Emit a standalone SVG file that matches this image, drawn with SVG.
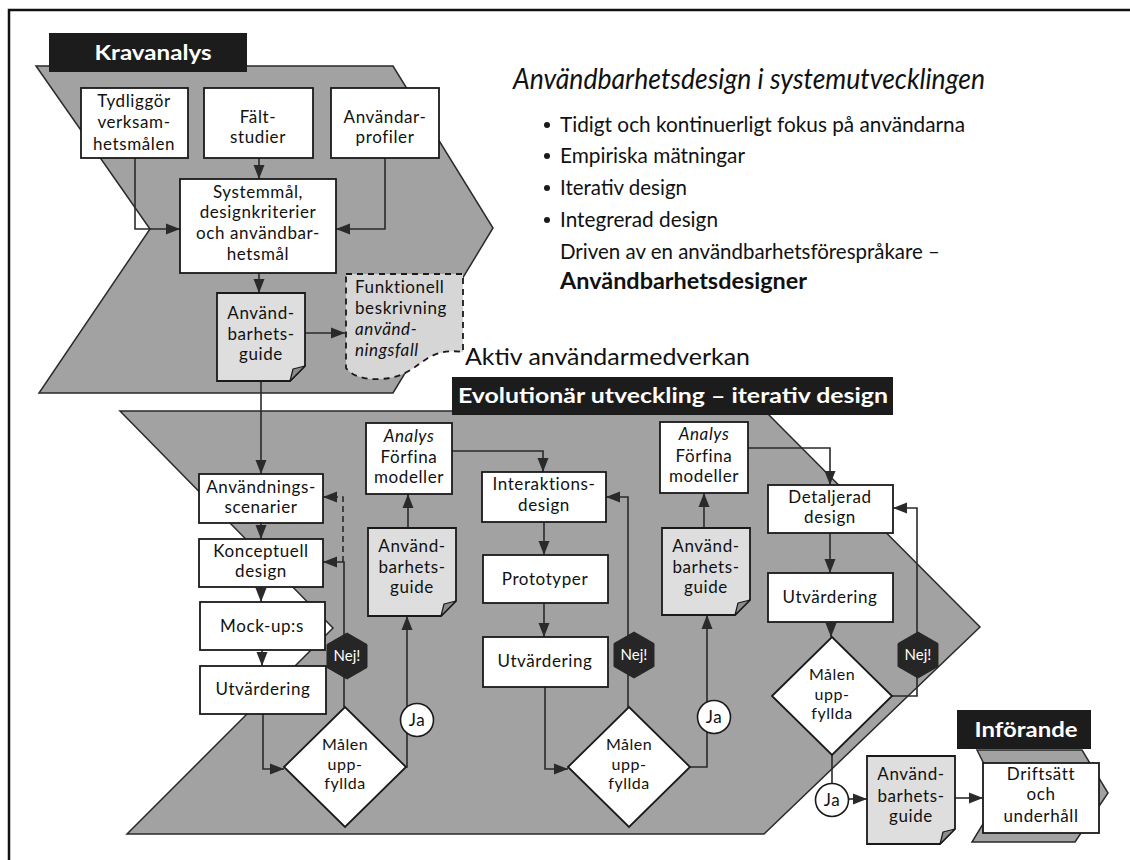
<svg xmlns="http://www.w3.org/2000/svg" width="1130" height="860" viewBox="0 0 1130 860">
  <defs>
    <style>
      .frame { fill: none; stroke: #111; stroke-width: 2.5; }
      .band { fill: #a2a2a2; stroke: #2a2a2a; stroke-width: 1.5; }
      .tag { fill: #1c1c1c; }
      .box { fill: #fff; stroke: #1a1a1a; stroke-width: 1.8; }
      .note { fill: #dedede; stroke: #1a1a1a; stroke-width: 1.8; }
      .fold { fill: #8c8c8c; stroke: #1a1a1a; stroke-width: 1.2; stroke-linejoin: round; }
      .torn { fill: #d6d6d6; stroke: #1a1a1a; stroke-width: 1.8; stroke-dasharray: 6 5; }
      .dia { fill: #fff; stroke: #1a1a1a; stroke-width: 1.8; }
      .hex { fill: #262626; stroke: #262626; stroke-width: 1; }
      .ja { fill: #fff; stroke: #1a1a1a; stroke-width: 1.6; }
      .t { font-family: Lato, "Open Sans", sans-serif; font-size: 17px; letter-spacing: 0.6px; fill: #111; text-anchor: middle; }
      .dt { font-size: 16px; letter-spacing: 0.5px; }
      .l { text-anchor: start; }
      .i { font-style: italic; }
      .wb { fill: #fff; font-weight: bold; font-size: 20px; letter-spacing: 0; }
      .nej { fill: #fff; font-size: 15px; letter-spacing: 0; }
      .head { font-family: Lato, "Open Sans", sans-serif; fill: #111; }
      .conn path { fill: none; stroke: #2a2a2a; stroke-width: 1.6; }
      .conn .a { marker-end: url(#ah); }
      .conn .d { stroke-dasharray: 6 4; }
    </style>
    <marker id="ah" markerUnits="userSpaceOnUse" markerWidth="15" markerHeight="12" refX="14" refY="6" orient="auto">
      <path d="M0,0.5 L14,6 L0,11.5 Z" fill="#2a2a2a"/>
    </marker>
  </defs>

  <!-- outer frame -->
  <rect class="frame" x="9" y="10" width="1140" height="870"/>

  <!-- phase bands -->
  <g id="band-kravanalys">
    <polygon class="band" points="36,66 393,66 493,228 393,393 39,393 150,229"/>
    <rect class="tag" x="49" y="33" width="198" height="39"/>
    <text class="t wb" x="153" y="60" textLength="117" lengthAdjust="spacingAndGlyphs">Kravanalys</text>
  </g>
  <g id="band-evolution">
    <polygon class="band" points="120,411 765,411 980,627 764,834 127,834 333,628"/>
    <rect class="tag" x="452" y="377" width="441" height="38"/>
    <text class="t wb" x="673" y="403" textLength="430" lengthAdjust="spacingAndGlyphs">Evolutionär utveckling – iterativ design</text>
  </g>
  <g id="band-inforande">
    <polygon class="band" points="977,750 1082,750 1108,793 1075,842 972,842 1000,796"/>
    <rect class="tag" x="957" y="710" width="134" height="39"/>
    <text class="t wb" x="1026" y="737" textLength="103" lengthAdjust="spacingAndGlyphs">Införande</text>
  </g>

  <!-- heading and principles -->
  <g id="heading">
    <text class="head i" x="513" y="89" font-size="28" textLength="472" lengthAdjust="spacingAndGlyphs">Användbarhetsdesign i systemutvecklingen</text>
    <g font-size="22">
      <circle cx="547" cy="125" r="3" fill="#1a1a1a"/>
      <circle cx="547" cy="156" r="3" fill="#1a1a1a"/>
      <circle cx="547" cy="188" r="3" fill="#1a1a1a"/>
      <circle cx="547" cy="220" r="3" fill="#1a1a1a"/>
      <text class="head" x="560" y="132" textLength="405" lengthAdjust="spacingAndGlyphs">Tidigt och kontinuerligt fokus på användarna</text>
      <text class="head" x="560" y="163" textLength="185" lengthAdjust="spacingAndGlyphs">Empiriska mätningar</text>
      <text class="head" x="560" y="195" textLength="127" lengthAdjust="spacingAndGlyphs">Iterativ design</text>
      <text class="head" x="560" y="227" textLength="158" lengthAdjust="spacingAndGlyphs">Integrerad design</text>
      <text class="head" x="560" y="259" textLength="380" lengthAdjust="spacingAndGlyphs">Driven av en användbarhetsförespråkare –</text>
      <text class="head" x="560" y="289" font-weight="bold" textLength="247" lengthAdjust="spacingAndGlyphs">Användbarhetsdesigner</text>
    </g>
    <text class="head" x="465" y="365" font-size="24" textLength="285" lengthAdjust="spacingAndGlyphs">Aktiv användarmedverkan</text>
  </g>

  <!-- connectors -->
  <g id="connectors" class="conn">
    <path class="a" d="M259,158 V179"/>
    <path class="a" d="M135,158 V229 H180"/>
    <path class="a" d="M385,158 V229 H336"/>
    <path class="a" d="M259,273 V293"/>
    <path class="a" d="M305,333 H345"/>
    <path class="a" d="M261,381 V474"/>
    <path class="a" d="M261,523 V539"/>
    <path class="a" d="M261,587 V602"/>
    <path class="a" d="M262,650 V666"/>
    <path class="a" d="M263,714 V769 H284"/>
    <path class="a" d="M344,707 V562 H323"/>
    <path class="a d" d="M343,562 V497 H323"/>
    <path class="a" d="M406,767 H407 V616"/>
    <path class="a" d="M408,528 V494"/>
    <path class="a" d="M452,451 H543 V472"/>
    <path class="a" d="M544,522 V555"/>
    <path class="a" d="M544,603 V637"/>
    <path class="a" d="M545,687 V769 H568"/>
    <path class="a" d="M628,707 V497 H606"/>
    <path class="a" d="M690,767 H707 V615"/>
    <path class="a" d="M704,528 V493"/>
    <path class="a" d="M748,448 H830 V485"/>
    <path class="a" d="M830,533 V573"/>
    <path class="a" d="M831,622 V637"/>
    <path class="a" d="M892,696 H917 V508 H893"/>
    <path d="M832,755 V783"/>
    <path class="a" d="M849,799 H867"/>
    <path class="a" d="M955,798 H983"/>
  </g>

  <!-- requirements analysis -->
  <g id="tydliggor">
    <rect class="box" x="81" y="88" width="107" height="70"/>
    <text class="t" x="134" y="107">Tydliggör</text>
    <text class="t" x="134" y="128">verksam-</text>
    <text class="t" x="134" y="150">hetsmålen</text>
  </g>
  <g id="faltstudier">
    <rect class="box" x="204" y="88" width="109" height="70"/>
    <text class="t" x="258" y="123">Fält-</text>
    <text class="t" x="258" y="143">studier</text>
  </g>
  <g id="anvandarprofiler">
    <rect class="box" x="331" y="88" width="108" height="70"/>
    <text class="t" x="385" y="123">Användar-</text>
    <text class="t" x="385" y="143">profiler</text>
  </g>
  <g id="systemmal">
    <rect class="box" x="180" y="179" width="156" height="94"/>
    <text class="t" x="258" y="198">Systemmål,</text>
    <text class="t" x="258" y="218">designkriterier</text>
    <text class="t" x="258" y="239">och användbar-</text>
    <text class="t" x="258" y="260">hetsmål</text>
  </g>
  <g id="guide1">
    <path class="note" d="M217,293 H305 V366 L290,381 H217 Z"/>
    <path class="fold" d="M305,366 L290,381 L293,369 Z"/>
    <text class="t" x="261" y="319">Använd-</text>
    <text class="t" x="261" y="340">barhets-</text>
    <text class="t" x="261" y="360">guide</text>
  </g>
  <g id="funktionell">
    <path class="torn" d="M346,274 H463 V352 C450,350 438,352 428,358 C415,366 405,378 380,379 C365,380 352,376 346,368 Z"/>
    <text class="t l" x="355" y="293">Funktionell</text>
    <text class="t l" x="355" y="314">beskrivning</text>
    <text class="t l i" x="355" y="335">använd-</text>
    <text class="t l i" x="355" y="356">ningsfall</text>
  </g>

  <!-- iteration 1 -->
  <g id="anvandningsscenarier">
    <rect class="box" x="199" y="474" width="124" height="49"/>
    <text class="t" x="261" y="493">Användnings-</text>
    <text class="t" x="261" y="513">scenarier</text>
  </g>
  <g id="konceptuell">
    <rect class="box" x="199" y="539" width="124" height="48"/>
    <text class="t" x="261" y="557">Konceptuell</text>
    <text class="t" x="261" y="577">design</text>
  </g>
  <g id="mockups">
    <rect class="box" x="200" y="602" width="125" height="48"/>
    <text class="t" x="262" y="632">Mock-up:s</text>
  </g>
  <g id="utvardering1">
    <rect class="box" x="200" y="666" width="126" height="48"/>
    <text class="t" x="263" y="695">Utvärdering</text>
  </g>
  <g id="malen1">
    <polygon class="dia" points="284,767 345,707 406,767 345,827"/>
    <text class="t dt" x="345" y="750">Målen</text>
    <text class="t dt" x="345" y="769.5">upp-</text>
    <text class="t dt" x="345" y="789">fyllda</text>
  </g>
  <g id="nej1">
    <polygon class="hex" points="347,633 367,644.5 367,667.5 347,679 327,667.5 327,644.5"/>
    <text class="t nej" x="347" y="661">Nej!</text>
  </g>
  <g id="ja1">
    <circle class="ja" cx="417" cy="720" r="16.5"/>
    <text class="t" x="417" y="726">Ja</text>
  </g>
  <g id="analys1">
    <rect class="box" x="366" y="423" width="86" height="71"/>
    <text class="t i" x="409" y="442">Analys</text>
    <text class="t" x="409" y="463">Förfina</text>
    <text class="t" x="409" y="483">modeller</text>
  </g>
  <g id="guide2">
    <path class="note" d="M368,528 H456 V601 L441,616 H368 Z"/>
    <path class="fold" d="M456,601 L441,616 L444,604 Z"/>
    <text class="t" x="412" y="552">Använd-</text>
    <text class="t" x="412" y="573">barhets-</text>
    <text class="t" x="412" y="593">guide</text>
  </g>

  <!-- iteration 2 -->
  <g id="interaktionsdesign">
    <rect class="box" x="482" y="472" width="124" height="50"/>
    <text class="t" x="544" y="490">Interaktions-</text>
    <text class="t" x="544" y="511">design</text>
  </g>
  <g id="prototyper">
    <rect class="box" x="483" y="555" width="125" height="48"/>
    <text class="t" x="545" y="585">Prototyper</text>
  </g>
  <g id="utvardering2">
    <rect class="box" x="483" y="637" width="125" height="50"/>
    <text class="t" x="545" y="667">Utvärdering</text>
  </g>
  <g id="malen2">
    <polygon class="dia" points="568,767 629,707 690,767 629,827"/>
    <text class="t dt" x="629" y="750">Målen</text>
    <text class="t dt" x="629" y="769.5">upp-</text>
    <text class="t dt" x="629" y="789">fyllda</text>
  </g>
  <g id="nej2">
    <polygon class="hex" points="634,632 654,643.5 654,666.5 634,678 614,666.5 614,643.5"/>
    <text class="t nej" x="634" y="660">Nej!</text>
  </g>
  <g id="ja2">
    <circle class="ja" cx="714" cy="717" r="16.5"/>
    <text class="t" x="714" y="723">Ja</text>
  </g>
  <g id="analys2">
    <rect class="box" x="660" y="422" width="88" height="71"/>
    <text class="t i" x="704" y="440">Analys</text>
    <text class="t" x="704" y="462">Förfina</text>
    <text class="t" x="704" y="482">modeller</text>
  </g>
  <g id="guide3">
    <path class="note" d="M662,528 H750 V600 L735,615 H662 Z"/>
    <path class="fold" d="M750,600 L735,615 L738,603 Z"/>
    <text class="t" x="706" y="552">Använd-</text>
    <text class="t" x="706" y="573">barhets-</text>
    <text class="t" x="706" y="593">guide</text>
  </g>

  <!-- iteration 3 -->
  <g id="detaljerad">
    <rect class="box" x="768" y="485" width="125" height="48"/>
    <text class="t" x="830" y="503">Detaljerad</text>
    <text class="t" x="830" y="523">design</text>
  </g>
  <g id="utvardering3">
    <rect class="box" x="768" y="573" width="125" height="49"/>
    <text class="t" x="830" y="603">Utvärdering</text>
  </g>
  <g id="malen3">
    <polygon class="dia" points="772,696 832,637 892,696 832,755"/>
    <text class="t dt" x="832" y="680">Målen</text>
    <text class="t dt" x="832" y="699.5">upp-</text>
    <text class="t dt" x="832" y="719">fyllda</text>
  </g>
  <g id="nej3">
    <polygon class="hex" points="918,632 938,643.5 938,666.5 918,678 898,666.5 898,643.5"/>
    <text class="t nej" x="918" y="660">Nej!</text>
  </g>
  <g id="ja3">
    <circle class="ja" cx="832" cy="800" r="16.5"/>
    <text class="t" x="832" y="806">Ja</text>
  </g>

  <!-- deployment -->
  <g id="guide4">
    <path class="note" d="M867,756 H955 V829 L940,844 H867 Z"/>
    <path class="fold" d="M955,829 L940,844 L943,832 Z"/>
    <text class="t" x="911" y="780">Använd-</text>
    <text class="t" x="911" y="802">barhets-</text>
    <text class="t" x="911" y="822">guide</text>
  </g>
  <g id="driftsatt">
    <rect class="box" x="983" y="763" width="116" height="70"/>
    <text class="t" x="1041" y="780">Driftsätt</text>
    <text class="t" x="1041" y="800">och</text>
    <text class="t" x="1041" y="822">underhåll</text>
  </g>
</svg>
